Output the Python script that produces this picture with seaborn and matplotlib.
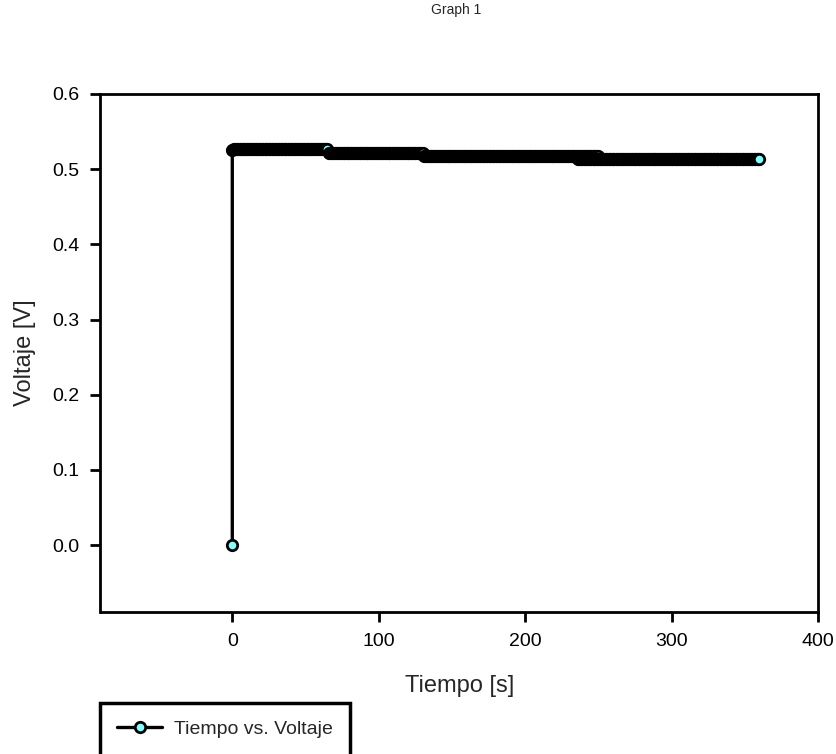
import numpy as np
import pandas as pd
import matplotlib
matplotlib.use("Agg")
import matplotlib.pyplot as plt
import seaborn as sns

# Data
start_times = [0, 0]
start_volts = [0.000, 0.525]
seg_starts = [1, 66, 131, 236]
seg_ends = [65, 130, 250, 360]
seg_levels = [0.5265, 0.5215, 0.5175, 0.5135]
x_ticks = [0, 100, 200, 300, 400]
y_ticks = [0.0, 0.1, 0.2, 0.3, 0.4, 0.5, 0.6]

t = list(start_times)
v = list(start_volts)
for s, e, lv in zip(seg_starts, seg_ends, seg_levels):
    for k in range(s, e + 1):
        t.append(k)
        v.append(lv)
df = pd.DataFrame({"Tiempo": t, "Voltaje": v})

sns.set_theme(style="white")
plt.rcParams['font.family'] = ['Liberation Sans', 'DejaVu Sans']

fig = plt.figure(figsize=(8.37, 7.54), dpi=100)
ax = fig.add_axes([100.5 / 837, (754 - 612) / 754, (818 - 100.5) / 837, (612 - 94) / 754])

sns.lineplot(data=df, x="Tiempo", y="Voltaje", ax=ax, color="black", lw=2.4,
             marker="o", markersize=7.5, markerfacecolor="#80ffff",
             markeredgecolor="black", markeredgewidth=2, sort=False,
             estimator=None,
             label="Tiempo vs. Voltaje", legend=False)

ax.set_xlim(-90, 400)
ax.set_ylim(-0.089, 0.6)
ax.set_xticks(x_ticks)
ax.set_yticks(y_ticks)
ax.set_xticklabels([str(x) for x in x_ticks], fontsize=14)
ax.set_yticklabels([f"{y:.1f}" for y in y_ticks], fontsize=14)
ax.tick_params(direction="out", length=7, width=2, colors="black",
               bottom=True, left=True, pad=8)
for sp in ax.spines.values():
    sp.set_color("black")
    sp.set_linewidth(2)
ax.set_xlabel("Tiempo [s]", fontsize=17, labelpad=18)
ax.set_ylabel("Voltaje [V]", fontsize=17, labelpad=12)

fig.text(0.545, 1 - 14 / 754, "Graph 1", ha="center", va="baseline", fontsize=10)

h, l = ax.get_legend_handles_labels()
leg = fig.legend(h, l, loc="upper left", bbox_to_anchor=(100 / 837, 1 - 703 / 754),
                 borderaxespad=0, frameon=True, fancybox=False, edgecolor="black",
                 framealpha=1, fontsize=14, borderpad=0.9, handlelength=2.3,
                 handletextpad=0.6)
leg.get_frame().set_linewidth(2.5)
leg.get_frame().set_edgecolor("black")

fig.savefig("out.png", dpi=100)
